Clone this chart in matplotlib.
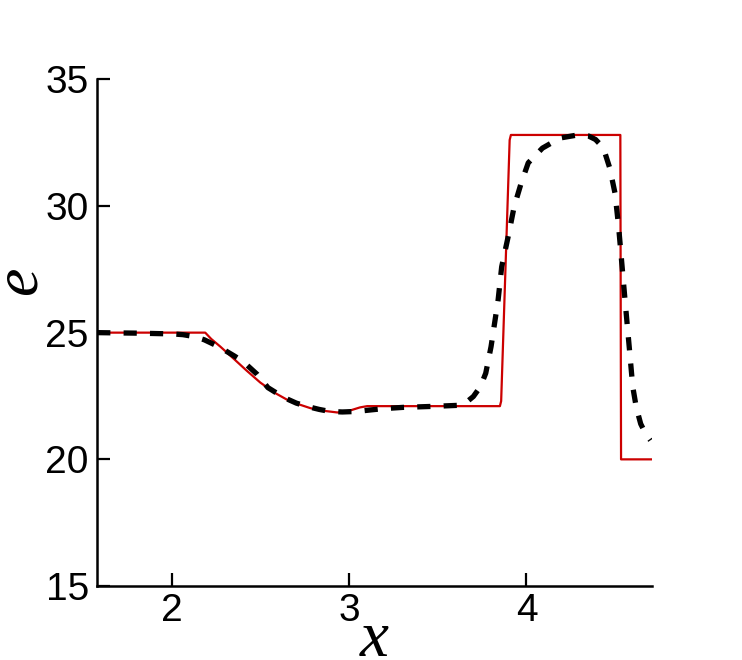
import matplotlib
matplotlib.use('Agg')
from matplotlib import pyplot as plt

# exact solution (red)
x_exact = [1.576, 2.186, 2.22, 2.271, 2.35, 2.42, 2.497, 2.58, 2.667, 2.78, 2.85,
           2.932, 3.0, 3.06, 3.10, 3.85, 3.857, 3.905, 3.912, 4.53, 4.534, 4.71]
e_exact = [25.0, 25.0, 24.75, 24.45, 23.95, 23.5, 23.03, 22.62, 22.28, 22.02, 21.92,
           21.85, 21.92, 22.05, 22.1, 22.1, 22.3, 32.6, 32.8, 32.8, 20.0, 20.0]

# numerical solution (black dashed)
x_num = [1.576, 1.8, 2.0, 2.06, 2.12, 2.18, 2.24, 2.29, 2.35, 2.40, 2.48, 2.54,
         2.63, 2.70, 2.76, 2.83, 2.89, 2.96, 3.04, 3.12, 3.19, 3.30, 3.47, 3.61,
         3.66, 3.70, 3.74, 3.77, 3.80, 3.84, 3.86, 3.90, 3.93, 3.97, 4.01, 4.09,
         4.19, 4.29, 4.35, 4.39, 4.42, 4.445, 4.47, 4.50, 4.52, 4.54, 4.56, 4.58,
         4.60, 4.62, 4.645, 4.67, 4.70]
e_num = [25.0, 24.98, 24.95, 24.92, 24.85, 24.72, 24.52, 24.33, 24.08, 23.86, 23.35, 22.83,
         22.44, 22.22, 22.09, 21.97, 21.89, 21.87, 21.89, 21.95, 22.0, 22.05, 22.09, 22.13,
         22.25, 22.48, 22.87, 23.4, 24.45, 26.3, 27.6, 28.9, 29.96, 30.9, 31.7, 32.28,
         32.68, 32.8, 32.76, 32.62, 32.4, 32.05, 31.5, 30.5, 29.2, 27.6, 26.0, 24.45,
         22.87, 22.05, 21.4, 21.05, 20.75]

x_ticks = [2, 3, 4]
y_ticks = [15, 20, 25, 30, 35]

fig = plt.figure(figsize=(7.42, 6.6), dpi=100)
ax = fig.add_axes([0.131, 0.112, 0.748, 0.768])

ax.plot(x_exact, e_exact, color='#cc0000', lw=1.6, solid_joinstyle='round')
ax.plot(x_num, e_num, color='black', lw=3.8, dashes=(2.5, 2.5))

ax.set_xlim(1.576, 4.71)
ax.set_ylim(15, 35)
ax.set_xticks(x_ticks)
ax.set_yticks(y_ticks)

for side in ['top', 'right']:
    ax.spines[side].set_visible(False)
for side in ['left', 'bottom']:
    ax.spines[side].set_linewidth(1.8)

ax.tick_params(axis='both', direction='in', length=9.5, width=1.6,
               labelsize=28)
ax.tick_params(axis='y', pad=6)
ax.tick_params(axis='x', pad=5)
for lab in ax.get_xticklabels() + ax.get_yticklabels():
    lab.set_family('Liberation Sans')

fig.text(0.505, 0.006, 'x', family='Liberation Serif', style='italic',
         fontsize=47, ha='center', va='baseline')
fig.text(0.027, 0.575, 'e', family='Liberation Serif', style='italic',
         fontsize=46, ha='center', va='center', rotation=90)

fig.savefig('out.png', dpi=100)
